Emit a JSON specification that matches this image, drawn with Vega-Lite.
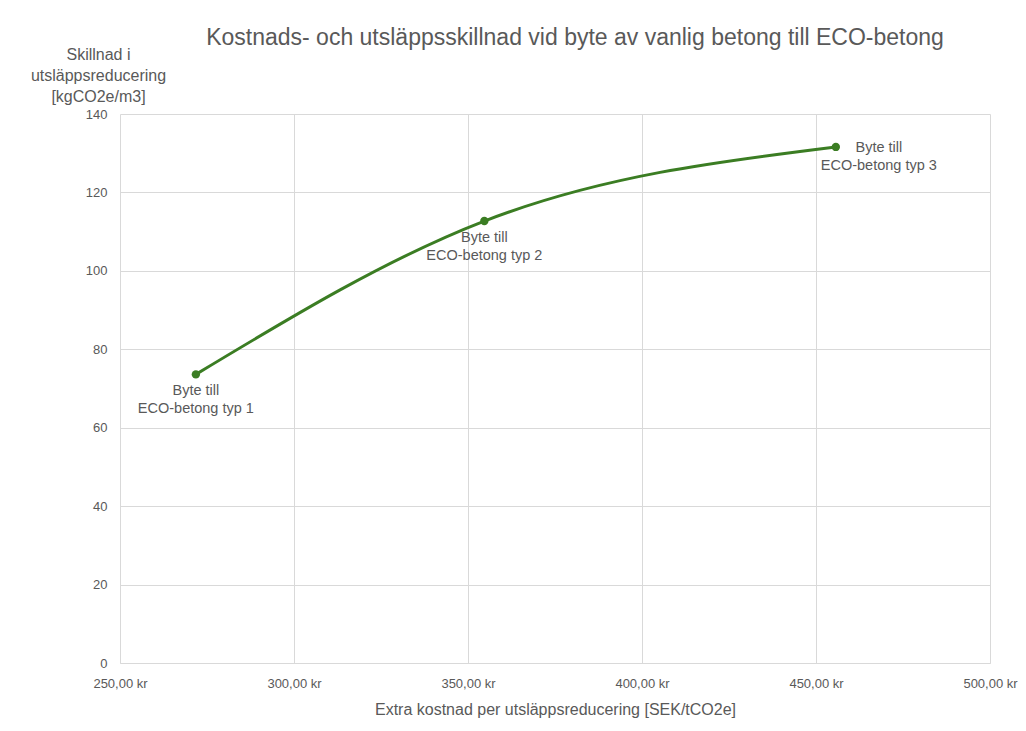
{
  "$schema": "https://vega.github.io/schema/vega-lite/v6.json",
  "autosize": "none",
  "width": 870,
  "height": 549,
  "padding": {"left": 120, "top": 114, "right": 36, "bottom": 68},
  "background": "white",
  "config": {
    "font": "Liberation Sans",
    "view": {"stroke": null},
    "axis": {"gridColor": "#d9d9d9", "gridWidth": 1, "labelColor": "#595959", "titleColor": "#595959", "labelFont": "Liberation Sans", "titleFont": "Liberation Sans", "titleFontWeight": "normal"}
  },
  "title": {
    "text": "Kostnads- och utsläppsskillnad vid byte av vanlig betong till ECO-betong",
    "fontSize": 23,
    "fontWeight": "normal",
    "color": "#595959",
    "anchor": "middle",
    "frame": "group",
    "offset": 4,
    "dx": 20,
    "dy": 8
  },
  "data": {
    "values": [
      {"kostnad": 271.8, "skillnad": 73.6, "label": "Byte till\nECO-betong typ 1", "pos": "below"},
      {"kostnad": 354.7, "skillnad": 112.7, "label": "Byte till\nECO-betong typ 2", "pos": "below"},
      {"kostnad": 455.7, "skillnad": 131.6, "label": "Byte till\nECO-betong typ 3", "pos": "right"}
    ]
  },
  "encoding": {
    "x": {
      "field": "kostnad",
      "type": "quantitative",
      "scale": {"domain": [250, 500], "nice": false, "zero": false},
      "axis": {
        "values": [250, 300, 350, 400, 450, 500],
        "labelExpr": "replace(format(datum.value, '.2f'), '.', ',') + ' kr'",
        "labelFontSize": 13,
        "labelFlush": false,
        "labelPadding": 14,
        "ticks": false,
        "domain": true,
        "domainColor": "#d9d9d9",
        "title": "Extra kostnad per utsläppsreducering [SEK/tCO2e]",
        "titleFontSize": 16,
        "titlePadding": 11
      }
    },
    "y": {
      "field": "skillnad",
      "type": "quantitative",
      "scale": {"domain": [0, 140], "nice": false},
      "axis": {
        "values": [0, 20, 40, 60, 80, 100, 120, 140],
        "labelFontSize": 13,
        "labelPadding": 13,
        "ticks": false,
        "domain": false,
        "title": ["Skillnad i", "utsläppsreducering", "[kgCO2e/m3]"],
        "titleAngle": 0,
        "titleAlign": "center",
        "titleBaseline": "top",
        "titleX": -22,
        "titleY": -68,
        "titleFontSize": 16,
        "titleLineHeight": 21
      }
    }
  },
  "layer": [
    {
      "mark": {"type": "line", "interpolate": "monotone", "color": "#3b7d23", "strokeWidth": 3}
    },
    {
      "mark": {"type": "point", "filled": true, "opacity": 1, "color": "#3b7d23", "size": 70}
    },
    {
      "transform": [{"filter": "datum.pos == 'below'"}],
      "mark": {"type": "text", "lineBreak": "\n", "align": "center", "baseline": "top", "dy": 10, "fontSize": 14.5, "lineHeight": 18, "color": "#595959"},
      "encoding": {"text": {"field": "label"}}
    },
    {
      "transform": [{"filter": "datum.pos == 'right'"}],
      "mark": {"type": "text", "lineBreak": "\n", "align": "center", "baseline": "top", "dx": 43, "dy": -6, "fontSize": 14.5, "lineHeight": 18, "color": "#595959"},
      "encoding": {"text": {"field": "label"}}
    }
  ]
}
